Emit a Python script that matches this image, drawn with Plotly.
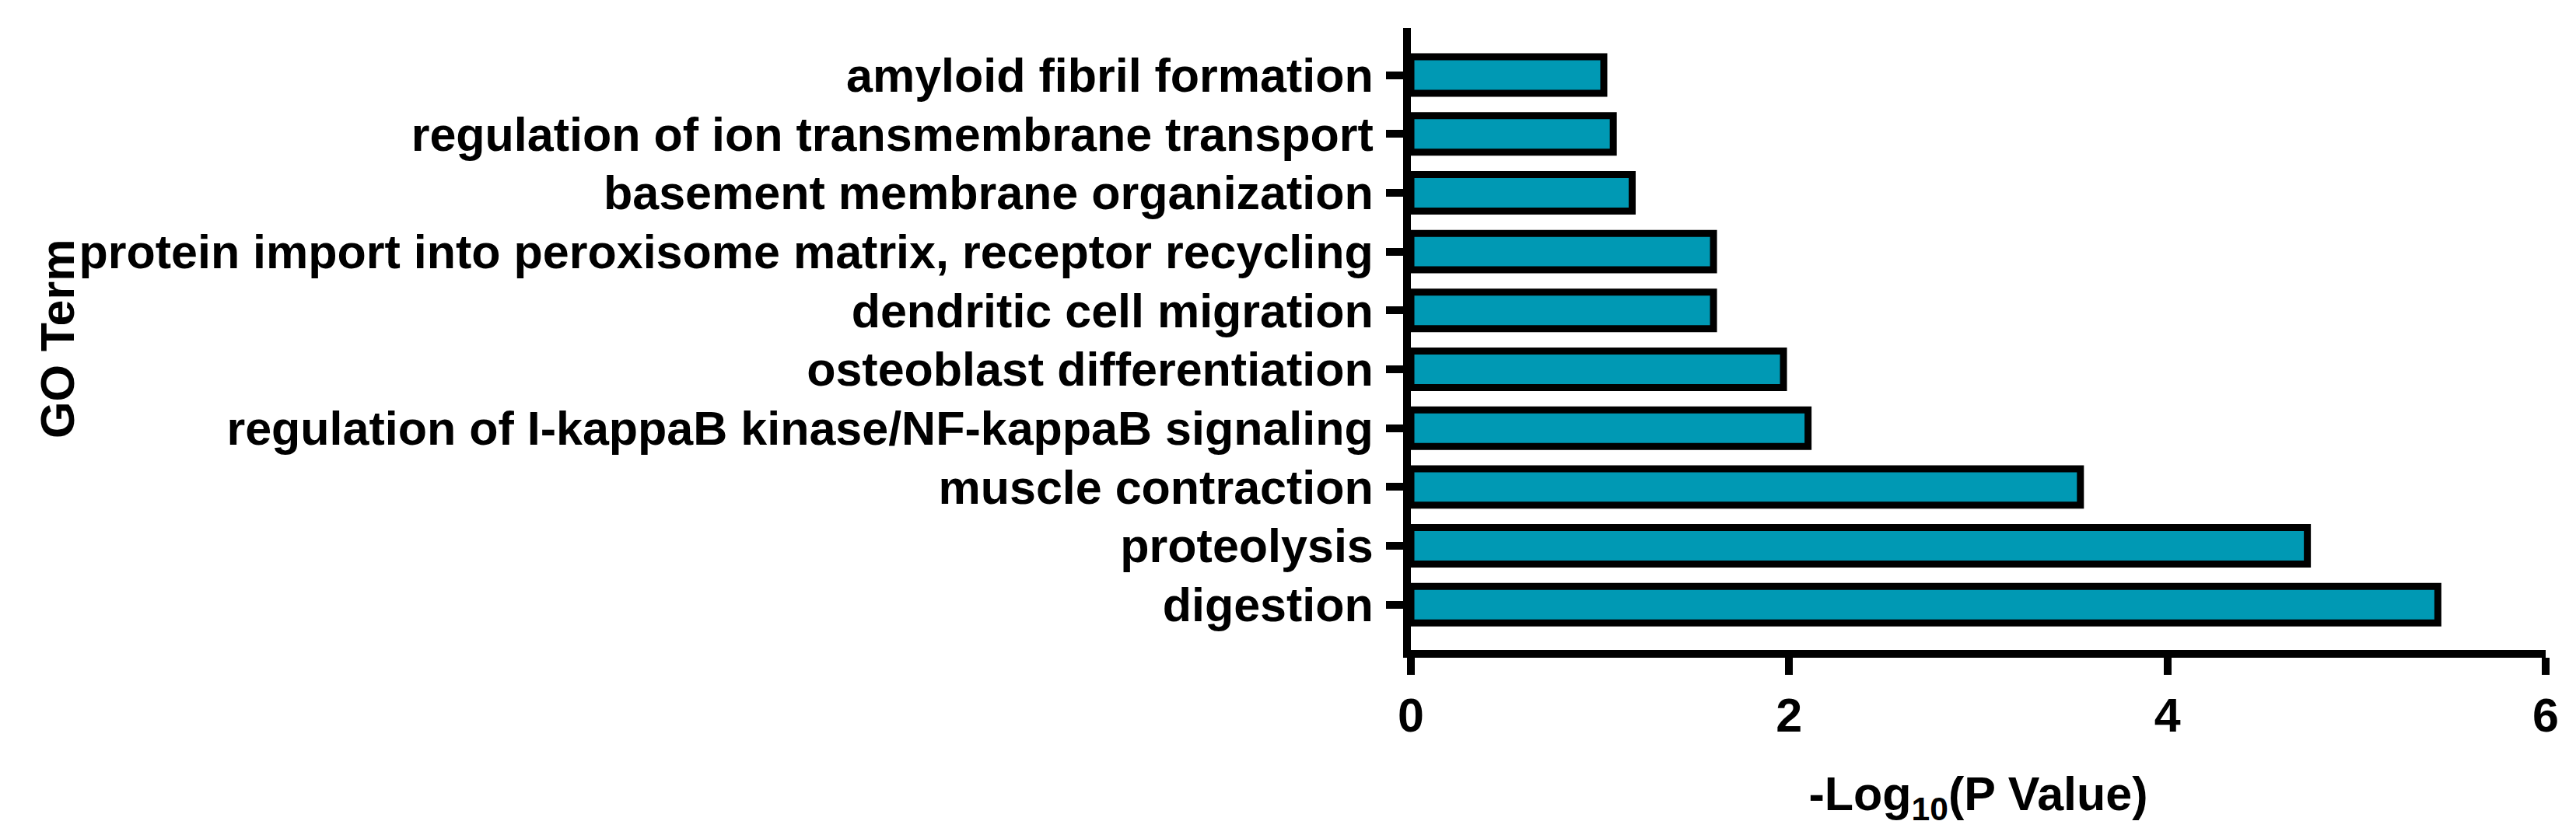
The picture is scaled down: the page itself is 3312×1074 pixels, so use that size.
import plotly.graph_objects as go

terms = ["digestion", "proteolysis", "muscle contraction",
         "regulation of I-kappaB kinase/NF-kappaB signaling",
         "osteoblast differentiation", "dendritic cell migration",
         "protein import into peroxisome matrix, receptor recycling",
         "basement membrane organization",
         "regulation of ion transmembrane transport",
         "amyloid fibril formation"]
values = [5.43, 4.74, 3.54, 2.10, 1.97, 1.60, 1.60, 1.17, 1.07, 1.02]

fig = go.Figure(go.Bar(
    x=values, y=terms, orientation="h", width=0.62,
    marker=dict(color="#0099B4", line=dict(color="black", width=9)),
))
font = dict(family="Liberation Sans, Arial", size=61, color="black", weight="bold")
fig.update_layout(
    width=3312, height=1074, plot_bgcolor="white", paper_bgcolor="white",
    margin=dict(l=1806, r=47, t=28, b=246), font=font, showlegend=False,
    xaxis=dict(range=[0, 6], tickvals=[0, 2, 4, 6], showline=True, linecolor="black",
               linewidth=10, ticks="outside", ticklen=22, tickwidth=10, tickcolor="black",
               showgrid=False, zeroline=False, tickfont=font,
               title=dict(text="-Log<sub>10</sub>(P Value)", font=font, standoff=50)),
    yaxis=dict(type="category", categoryorder="array", categoryarray=terms,
               range=[-0.77, 9.8], showline=True, linecolor="black", linewidth=10,
               ticks="outside", ticklen=22, tickwidth=10, tickcolor="black",
               showgrid=False, zeroline=False, tickfont=font, ticklabelstandoff=4),
    annotations=[dict(text="GO Term", xref="paper", yref="paper",
                      x=-(1806-30)/(3312-1806-47), y=0.5, textangle=-90, showarrow=False,
                      font=font, xanchor="left", yanchor="middle")],
)
fig.write_html("out.html")
